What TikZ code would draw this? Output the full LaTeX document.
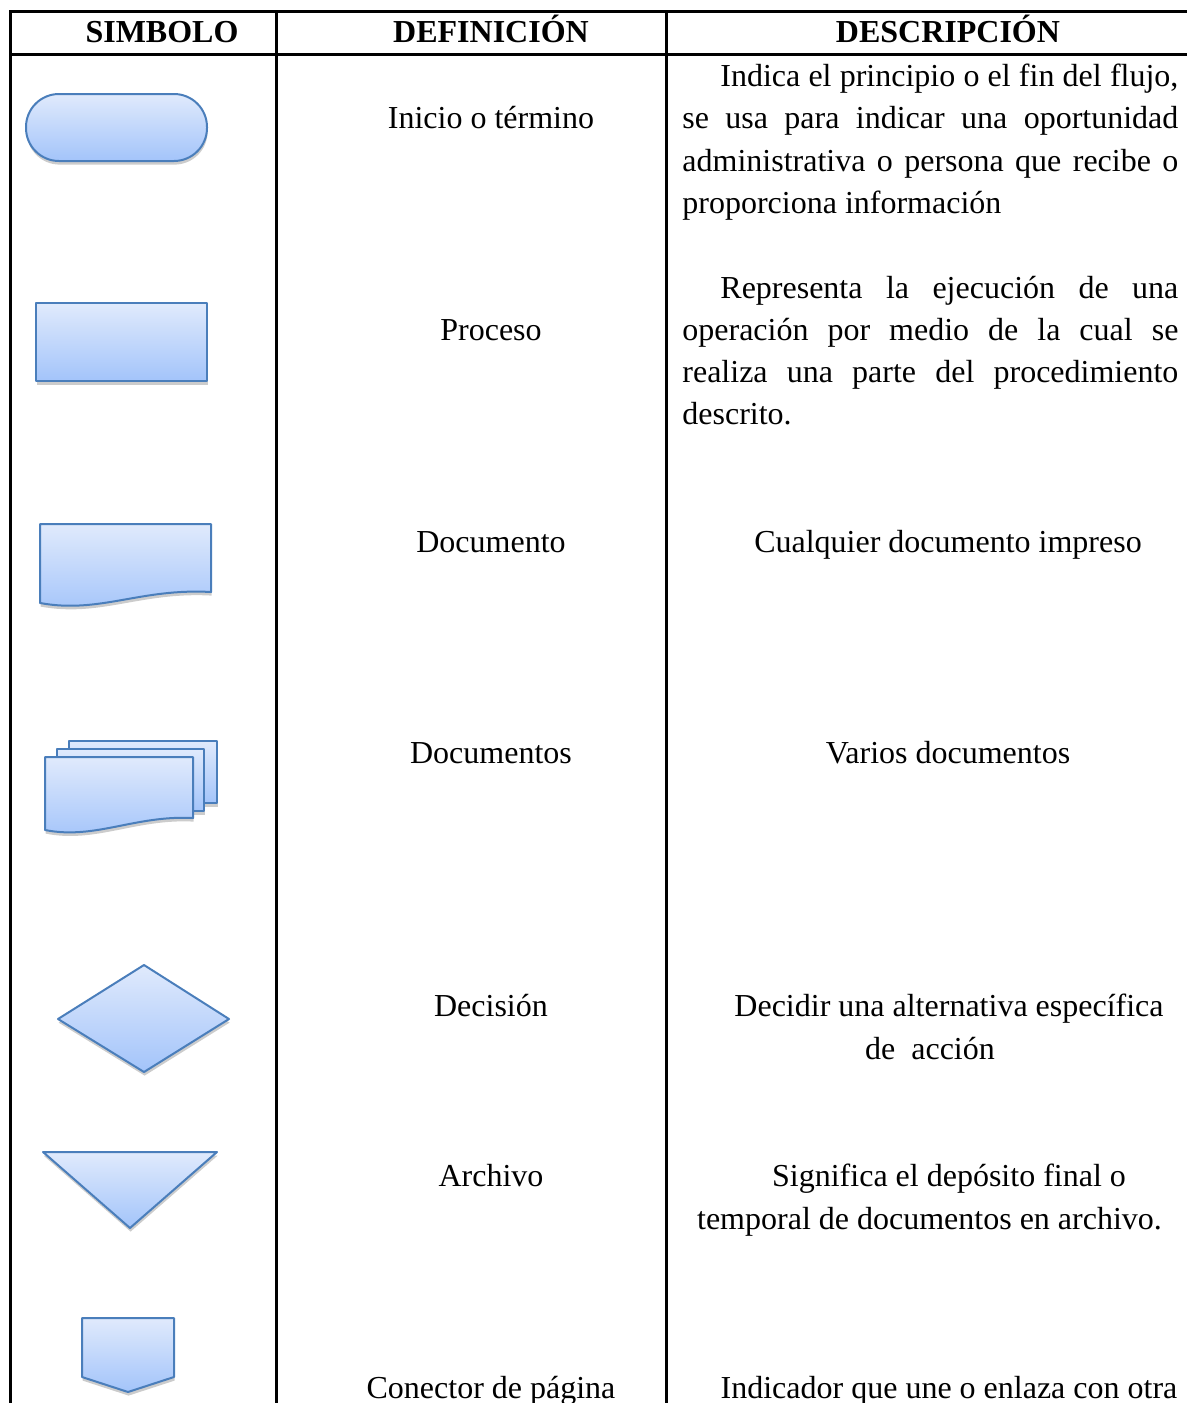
\documentclass[tikz,border=0pt]{standalone}
\usepackage{fontspec}
\setmainfont{Liberation Serif}
\usetikzlibrary{shadows}
\definecolor{symline}{RGB}{74,126,187}
\definecolor{symtop}{RGB}{224,234,252}
\definecolor{symbot}{RGB}{163,196,250}
\begin{document}
\begin{tikzpicture}[x=0.5pt,y=-0.5pt,
  sym/.style={draw=symline, line width=1pt, line join=round, top color=symtop, bottom color=symbot,
    drop shadow={shadow xshift=0.3pt, shadow yshift=-1.8pt, opacity=0.4}},
  rule/.style={line width=1.5pt},
  txt/.style={anchor=base, inner sep=0pt, font=\fontsize{16pt}{19pt}\selectfont},
  ltxt/.style={txt, anchor=base west},
  hdr/.style={txt, font=\fontsize{16pt}{19pt}\selectfont\bfseries}]
\useasboundingbox (0,0) rectangle (1187,1403);
% table rules
\draw[rule] (10,1403) -- (10,11) -- (1187,11);
\draw[rule] (10,54) -- (1187,54);
\draw[rule] (276,11) -- (276,1403);
\draw[rule] (666,11) -- (666,1403);
% headers
\node[hdr] (h1) at (162,42.5) {SIMBOLO};
\node[hdr] (h2) at (491,42.5) {DEFINICIÓN};
\node[hdr] (h3) at (948,42.5) {DESCRIPCIÓN};
% symbols
\path[sym, rounded corners=16.5pt] (26,94) rectangle (207,161);
\path[sym] (36,303) rectangle (207,381);
\path[sym] (40,524) -- (211,524) -- (211,592) .. controls (140,588) and (100,614) .. (40,603) -- cycle;
\path[sym] (69,741) rectangle (217,803);
\path[sym] (57,749) rectangle (204,811);
\path[sym] (45,757) -- (193,757) -- (193,818) .. controls (135,815) and (95,840) .. (45,830) -- cycle;
\path[sym] (58,1019) -- (144,965) -- (229,1019) -- (144,1072) -- cycle;
\path[sym] (43,1152) -- (217,1152) -- (130,1228) -- cycle;
\path[sym] (82,1318) -- (174,1318) -- (174,1377) -- (128,1392) -- (82,1377) -- cycle;
% definitions
\node[txt] (d1) at (491,128) {Inicio o término};
\node[txt] (d2) at (491,340) {Proceso};
\node[txt] (d3) at (491,552) {Documento};
\node[txt] (d4) at (491,763) {Documentos};
\node[txt] (d5) at (491,1016) {Decisión};
\node[txt] (d6) at (491,1186) {Archivo};
\node[txt] (d7) at (491,1398) {Conector de página};
% descriptions
\node[ltxt] (p1a) at (720,86) {\makebox[229pt][s]{Indica el principio o el fin del flujo,}};
\node[ltxt] (p1b) at (682,128) {\makebox[248pt][s]{se usa para indicar una oportunidad}};
\node[ltxt] (p1c) at (682,171) {\makebox[248pt][s]{administrativa o persona que recibe o}};
\node[ltxt] (p1d) at (682,213) {proporciona información};
\node[ltxt] (p2a) at (720,298.5) {\makebox[229pt][s]{Representa la ejecución de una}};
\node[ltxt] (p2b) at (682,340) {\makebox[248pt][s]{operación por medio de la cual se}};
\node[ltxt] (p2c) at (682,382.5) {\makebox[248pt][s]{realiza una parte del procedimiento}};
\node[ltxt] (p2d) at (682,424) {descrito.};
\node[txt] (p3) at (948,552) {Cualquier documento impreso};
\node[txt] (p4) at (948,763) {Varios documentos};
\node[txt] (p5a) at (949,1016) {Decidir una alternativa específica};
\node[txt] (p5b) at (930,1059) {de\ \ acción};
\node[txt] (p6a) at (949,1186) {Significa el depósito final o};
\node[txt] (p6b) at (929.5,1229) {temporal de documentos en archivo.};
\node[txt] (p7) at (949,1398) {Indicador que une o enlaza con otra};
\end{tikzpicture}
\end{document}
